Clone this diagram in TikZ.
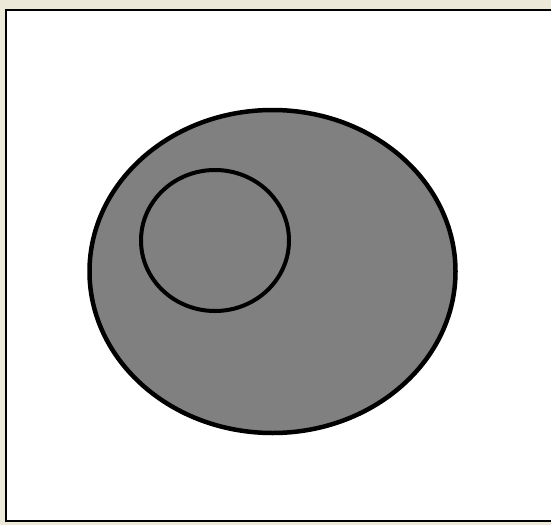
\documentclass[tikz,border=0pt]{standalone}
\usepackage{xcolor}
\usepackage{tikz}
\definecolor{panelbeige}{RGB}{236, 233, 216}
\definecolor{blobgray}{RGB}{128, 128, 128}

\begin{document}
\begin{tikzpicture}[x=1pt, y=-1pt]
        % Canvas
        \fill[panelbeige] (0, 0) rectangle (551, 525);
        \useasboundingbox (0, 0) rectangle (551, 525);
        \fill[white] (5, 9) rectangle (551, 521);
        \draw[line width=2pt] (6, 521) -- (6, 10) -- (551, 10);
        \draw[line width=2pt] (5, 521) -- (551, 521);
        
        % Outer ellipse
        \draw[fill=blobgray, line width=4.5pt] (272.5, 271.5) ellipse [x radius=183, y radius=161.5];
        
        % Inner ellipse
        \draw[line width=4pt] (215, 240.5) ellipse [x radius=74, y radius=70.5];
    \end{tikzpicture}
\end{document}
